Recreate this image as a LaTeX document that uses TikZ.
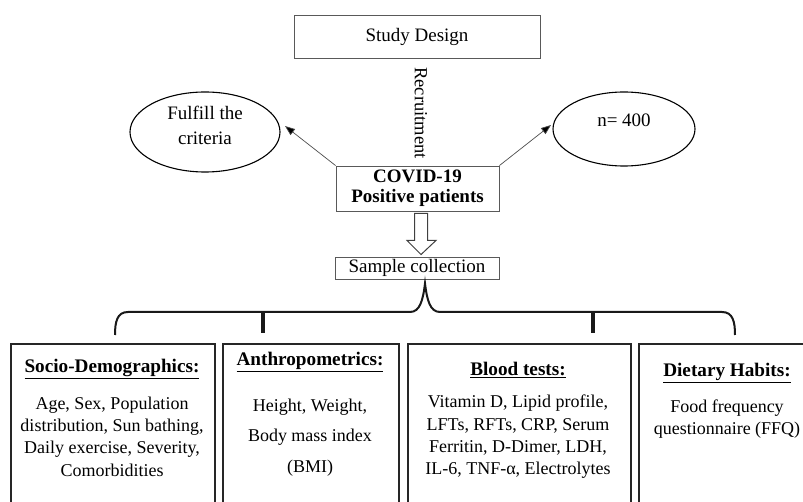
\documentclass[tikz,border=0pt]{standalone}
\usepackage{fontspec}
\setmainfont{Liberation Serif}
\usetikzlibrary{shapes.geometric,arrows.meta,calc}
\begin{document}
\begin{tikzpicture}[x=1pt,y=-1pt,
  topbox/.style={draw=black!65,line width=0.9pt,inner sep=0pt,font=\fontsize{19}{20}\selectfont},
  ell/.style={draw=black,line width=1.1pt,ellipse,inner sep=0pt},
  ttext/.style={font=\fontsize{19}{25}\selectfont,align=center,inner sep=0pt},
  btm/.style={draw=black!85,line width=1.6pt,inner sep=0pt,anchor=north west},
  hdr/.style={font=\fontsize{19.2}{22}\selectfont\bfseries,inner sep=0pt},
  body/.style={font=\fontsize{18}{22.3}\selectfont,align=center,inner sep=0pt},
  thinarrow/.style={draw=black!70,line width=0.7pt,-{Triangle[length=10pt,width=7.5pt,fill=black]}},
  bracestyle/.style={draw=black!90,line width=2pt},
  tick/.style={draw=black!90,line width=4pt}]
\useasboundingbox (0,0) rectangle (803,502);
\clip (0,0) rectangle (803,502);
% top
\node[topbox,minimum width=246pt,minimum height=43pt] (sd) at (417,36.5) {Study Design};
\node[rotate=-90,font=\fontsize{18.5}{20}\selectfont,inner sep=0pt] (rec) at (421,113) {Recruitment};
\node[topbox,minimum width=163pt,minimum height=45pt,align=center,font=\fontsize{19}{20}\selectfont\bfseries] (cov) at (417.5,188.5) {COVID-19\\Positive patients};
\node[ell,minimum width=150pt,minimum height=80pt] (fe) at (205,132) {};
\node[ttext] (fet) at (205,125.5) {Fulfill the\\criteria};
\node[ell,minimum width=142pt,minimum height=74pt] (ne) at (624,129) {};
\node[ttext] (net) at (624,120) {n= 400};
\coordinate (fetip) at (285,126);
\coordinate (netip) at (551,125);
\draw[thinarrow] (cov.north west) -- (fetip);
\draw[thinarrow] (cov.north east) -- (netip);
\node[topbox,minimum width=164pt,minimum height=22pt] (sc) at (417,268) {Sample collection};
% hollow arrow
\draw[draw=black!75,line width=1pt,fill=white]
  ($(cov.south)+(-3,2)$) -- ($(cov.south)+(10,2)$) -- ($(cov.south)+(10,29)$) -- ($(cov.south)+(18.5,29)$)
  -- ($(sc.north)+(4,-2)$) -- ($(cov.south)+(-10.5,29)$) -- ($(cov.south)+(-3,29)$) -- cycle;
% brace
\draw[bracestyle] (115,335) .. controls (115,322) and (117,312) .. (128,312) -- (410,312)
  .. controls (420,312) and (423,300) .. ($(sc.south)+(8,4)$)
  .. controls (427,300) and (430,312) .. (440,312) -- (722,312)
  .. controls (733,312) and (735,322) .. (735,335);
\coordinate (t1) at (263,312);
\coordinate (t1e) at (263,333);
\coordinate (t2) at (593,312);
\coordinate (t2e) at (593,333);
\draw[tick] (t1) -- (t1e);
\draw[tick] (t2) -- (t2e);
% bottom boxes
\node[btm,minimum width=204pt,minimum height=180pt] (b1) at (10,343) {};
\node[btm,minimum width=176pt,minimum height=180pt] (b2) at (222,343) {};
\node[btm,minimum width=223pt,minimum height=180pt] (b3) at (407,343) {};
\node[btm,minimum width=200pt,minimum height=180pt] (b4) at (638,343) {};
\node[hdr] (h1) at (112,369) {\underline{Socio-Demographics:}};
\node[body] (x1) at (112,436.5) {Age, Sex, Population\\distribution, Sun bathing,\\Daily exercise, Severity,\\Comorbidities};
\node[hdr] (h2) at (310,362) {\underline{Anthropometrics:}};
\node[body,font=\fontsize{18}{30.5}\selectfont] (x2) at (310,437.5) {Height, Weight,\\Body mass index\\(BMI)};
\node[hdr] (h3) at (518,370) {\underline{Blood tests:}};
\node[body] (x3) at (518,437) {Vitamin D, Lipid profile,\\LFTs, RFTs, CRP, Serum\\Ferritin, D-Dimer, LDH,\\IL-6, TNF-α, Electrolytes};
\node[hdr] (h4) at (727,373) {\underline{Dietary Habits:}};
\node[body] (x4) at (727,419) {Food frequency\\questionnaire (FFQ)};
\end{tikzpicture}
\end{document}
